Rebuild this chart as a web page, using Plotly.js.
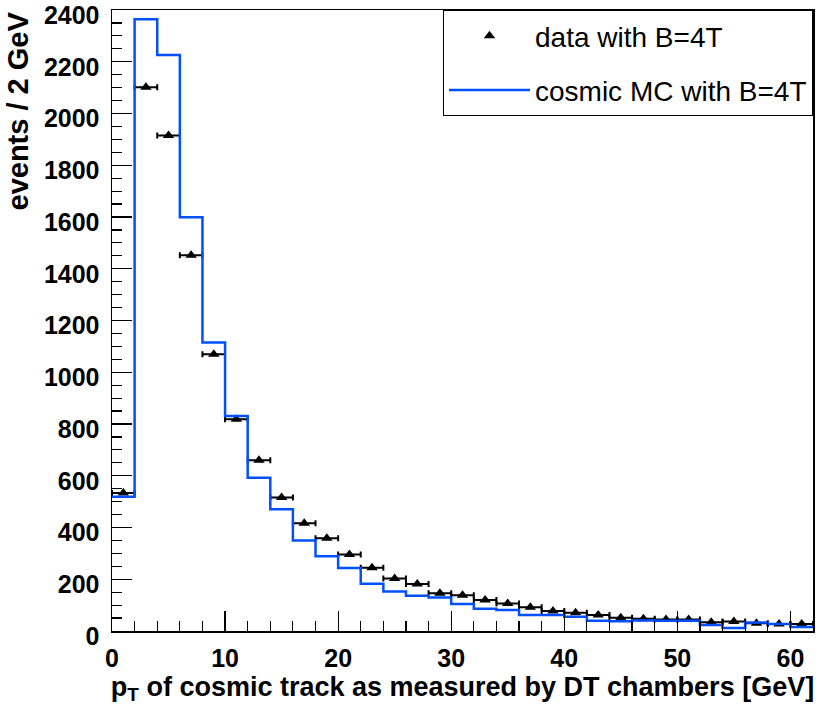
<!DOCTYPE html>
<html>
<head>
<meta charset="utf-8">
<script src="https://cdn.plot.ly/plotly-3.0.1.min.js"></script>
<style>html,body{margin:0;padding:0;background:#fff;}#chart{width:819px;height:718px;}</style>
</head>
<body>
<div id="chart"></div>
<script>
// bin lower edges (GeV), bin width 2 GeV
const binWidth = 2;
const binLow = [0,2,4,6,8,10,12,14,16,18,20,22,24,26,28,30,32,34,36,38,40,42,44,46,48,50,52,54,56,58,60];
// cosmic MC with B=4T (events / 2 GeV)
const mcCounts = [519,2364,2226,1599,1115,831,592,471,350,289,243,183,153,136,129,104,86,81,62,62,55,40,38,41,40,40,23,12,33,27,15];
// data with B=4T (events / 2 GeV)
const dataCounts = [533,2101,1915,1452,1070,818,660,516,416,358,296,244,203,182,146,138,120,106,92,77,71,62,51,47,44,44,34,37,30,27,27];

const xTickVals = [0,10,20,30,40,50,60];
const yTickVals = [0,200,400,600,800,1000,1200,1400,1600,1800,2000,2200,2400];

const binCenters = binLow.map(v => v + binWidth/2);
const stepX = binLow.concat([binLow[binLow.length-1] + binWidth]);
const stepY = mcCounts.concat([mcCounts[mcCounts.length-1]]);

const FONT = "'Liberation Sans', Arial, Helvetica, sans-serif";

const traces = [
  {
    type: 'scatter', mode: 'markers', name: 'data with B=4T',
    x: binCenters, y: dataCounts,
    marker: {symbol: 'triangle-up', size: 10, color: '#000'},
    error_x: {type: 'constant', value: binWidth/2, color: '#000', thickness: 2, width: 3},
    legendgroup: 'a'
  },
  {
    type: 'scatter', mode: 'lines', name: 'cosmic MC with B=4T',
    x: stepX, y: stepY,
    line: {shape: 'hv', color: '#0050ff', width: 2.5},
    legendgroup: 'b'
  }
];

const axisCommon = {
  showgrid: false, zeroline: false, showline: true, linecolor: '#000', linewidth: 1.5,
  mirror: true, ticks: 'inside', ticklen: 20, tickwidth: 1.2, tickcolor: '#000',
  ticklabeloverflow: 'allow',
  tickfont: {family: FONT, size: 25, color: '#000', weight: 'bold'}
};

const layout = {
  width: 819, height: 718,
  margin: {l: 112, r: 6, t: 10, b: 87},
  paper_bgcolor: '#fff', plot_bgcolor: '#fff',
  showlegend: true,
  xaxis: Object.assign({}, axisCommon, {
    range: [0, 62], tickmode: 'array', tickvals: xTickVals, ticktext: xTickVals.map(String),
    minor: {dtick: 2, tick0: 0, ticks: 'inside', ticklen: 10, tickcolor: '#000', tickwidth: 1.2, showgrid: false},
    ticklabelstandoff: 4,
    title: {text: 'p<sub>T</sub> of cosmic track as measured by DT chambers [GeV]',
            font: {family: FONT, size: 27, color: '#000', weight: 'bold'}, standoff: 6}
  }),
  yaxis: Object.assign({}, axisCommon, {
    range: [0, 2400], tickmode: 'array', tickvals: yTickVals, ticktext: yTickVals.map(String),
    minor: {dtick: 50, tick0: 0, ticks: 'inside', ticklen: 10, tickcolor: '#000', tickwidth: 1.2, showgrid: false},
    ticklabelstandoff: 6, ticklabelshift: 5
  }),
  annotations: [{
    text: 'events / 2 GeV', textangle: -90, showarrow: false,
    xref: 'paper', yref: 'paper', x: 0, y: 1, xanchor: 'center', yanchor: 'top',
    xshift: -95, yshift: 0,
    font: {family: FONT, size: 29, color: '#000', weight: 'bold'}
  }],
  legend: {
    x: 1, y: 1, xanchor: 'right', yanchor: 'top',
    bgcolor: '#fff', bordercolor: '#000', borderwidth: 1,
    font: {family: FONT, size: 28, color: '#000'},
    traceorder: 'grouped', tracegroupgap: 15, itemwidth: 81
  }
};

Plotly.newPlot('chart', traces, layout, {displayModeBar: false, staticPlot: true});
</script>
</body>
</html>
